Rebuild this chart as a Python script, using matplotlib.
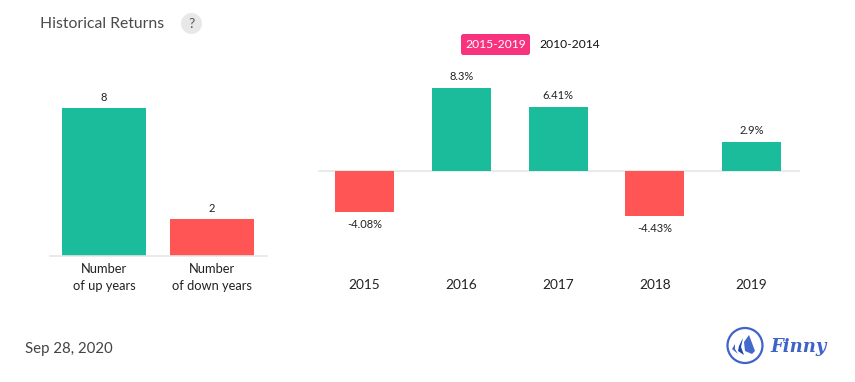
import matplotlib
matplotlib.use("Agg")
import matplotlib.pyplot as plt
from matplotlib.patches import Circle, FancyBboxPatch, Polygon

plt.rcParams['font.family'] = ['Lato', 'DejaVu Sans']

# Data
count_labels = ['Number\nof up years', 'Number\nof down years']
count_values = [8, 2]
years = ['2015', '2016', '2017', '2018', '2019']
returns = [-4.08, 8.3, 6.41, -4.43, 2.9]
return_labels = ['-4.08%', '8.3%', '6.41%', '-4.43%', '2.9%']

green = '#1abc9c'
red = '#ff5555'
W, H = 855, 382


def px_axes(x0, y_top, x1, y_bottom):
    return fig.add_axes([x0 / W, 1 - y_bottom / H, (x1 - x0) / W, (y_bottom - y_top) / H])


fig = plt.figure(figsize=(W / 100, H / 100), dpi=100, facecolor='white')

# Overlay in pixel coordinates for the header, date and logo
bg = fig.add_axes([0, 0, 1, 1])
bg.set_xlim(0, W)
bg.set_ylim(H, 0)
bg.axis('off')

bg.text(40, 23.5, 'Historical Returns', fontsize=11.3, color='#4a4a4a', va='center')
bg.add_patch(Circle((191.5, 23.5), 10.5, color='#e8e8e8', lw=0))
bg.text(191.5, 23.5, '?', fontsize=10, color='#555555', ha='center', va='center')

bg.add_patch(FancyBboxPatch((461, 34), 69, 21, boxstyle='round,pad=0,rounding_size=2.5',
                            fc='#f8327f', ec='none'))
bg.text(495.5, 45, '2015-2019', fontsize=8.7, color='white', ha='center', va='center')
bg.text(570, 45, '2010-2014', fontsize=8.7, color='#111111', ha='center', va='center')

bg.text(25, 348.5, 'Sep 28, 2020', fontsize=10.8, color='#444444', va='center')

# Logo
bg.add_patch(Circle((745, 345.5), 17.5, fc='none', ec='#3f63c8', lw=1.6))
bg.add_patch(Polygon([(749, 335), (755, 351), (752, 354), (745, 351), (744, 342)], fc='#4468cc', ec='none'))
bg.add_patch(Polygon([(743, 338), (739, 346), (738, 351), (744, 355), (741, 347)], fc='#1f45ad', ec='none'))
bg.add_patch(Polygon([(735, 344), (732, 349), (738, 354), (735, 349)], fc='#4468cc', ec='none'))
bg.text(798.5, 347, 'Finny', fontsize=13, color='#3f63c8', ha='center', va='center',
        family=['DejaVu Serif'], style='italic', fontweight='bold')

# Left chart
ax1 = px_axes(50, 88, 267, 255.5)
ax1.bar([0, 1], count_values, width=0.778, color=[green, red])
ax1.set_xlim(-0.5, 1.509)
ax1.set_ylim(0, 167.5 / 148 * 8)
for i, v in enumerate(count_values):
    ax1.annotate(str(v), (i, v), xytext=(0, 3.5), textcoords='offset points',
                 ha='center', va='bottom', fontsize=8, color='#222222')
ax1.set_xticks([0, 1])
ax1.set_xticklabels(count_labels, fontsize=9.3, color='#222222', linespacing=1.45)
ax1.set_yticks([])
ax1.tick_params(axis='x', length=0, pad=5.5)
for s in ['top', 'left', 'right']:
    ax1.spines[s].set_visible(False)
ax1.spines['bottom'].set_color('#e6e6e6')
ax1.spines['bottom'].set_linewidth(1.2)

# Right chart
ax2 = px_axes(318, 69.5, 800, 261.5)
xs = list(range(len(years)))
ax2.bar(xs, returns, width=0.61, color=[green if r > 0 else red for r in returns])
ax2.axhline(0, color='#e6e6e6', lw=1.2, zorder=0)
ax2.set_xlim(-0.4806, 4.5)
ax2.set_ylim(-8.99, 10.1)
for i, v in enumerate(returns):
    if v > 0:
        ax2.annotate(return_labels[i], (i, v), xytext=(0, 4), textcoords='offset points',
                     ha='center', va='bottom', fontsize=8, color='#222222')
    else:
        ax2.annotate(return_labels[i], (i, v), xytext=(0, -5), textcoords='offset points',
                     ha='center', va='top', fontsize=8, color='#222222')
ax2.set_xticks(xs)
ax2.set_xticklabels(years, fontsize=9.8, color='#222222')
ax2.set_yticks([])
ax2.tick_params(axis='x', length=0, pad=12.4)
for s in ax2.spines.values():
    s.set_visible(False)

fig.savefig('out.png', dpi=100, facecolor='white')
